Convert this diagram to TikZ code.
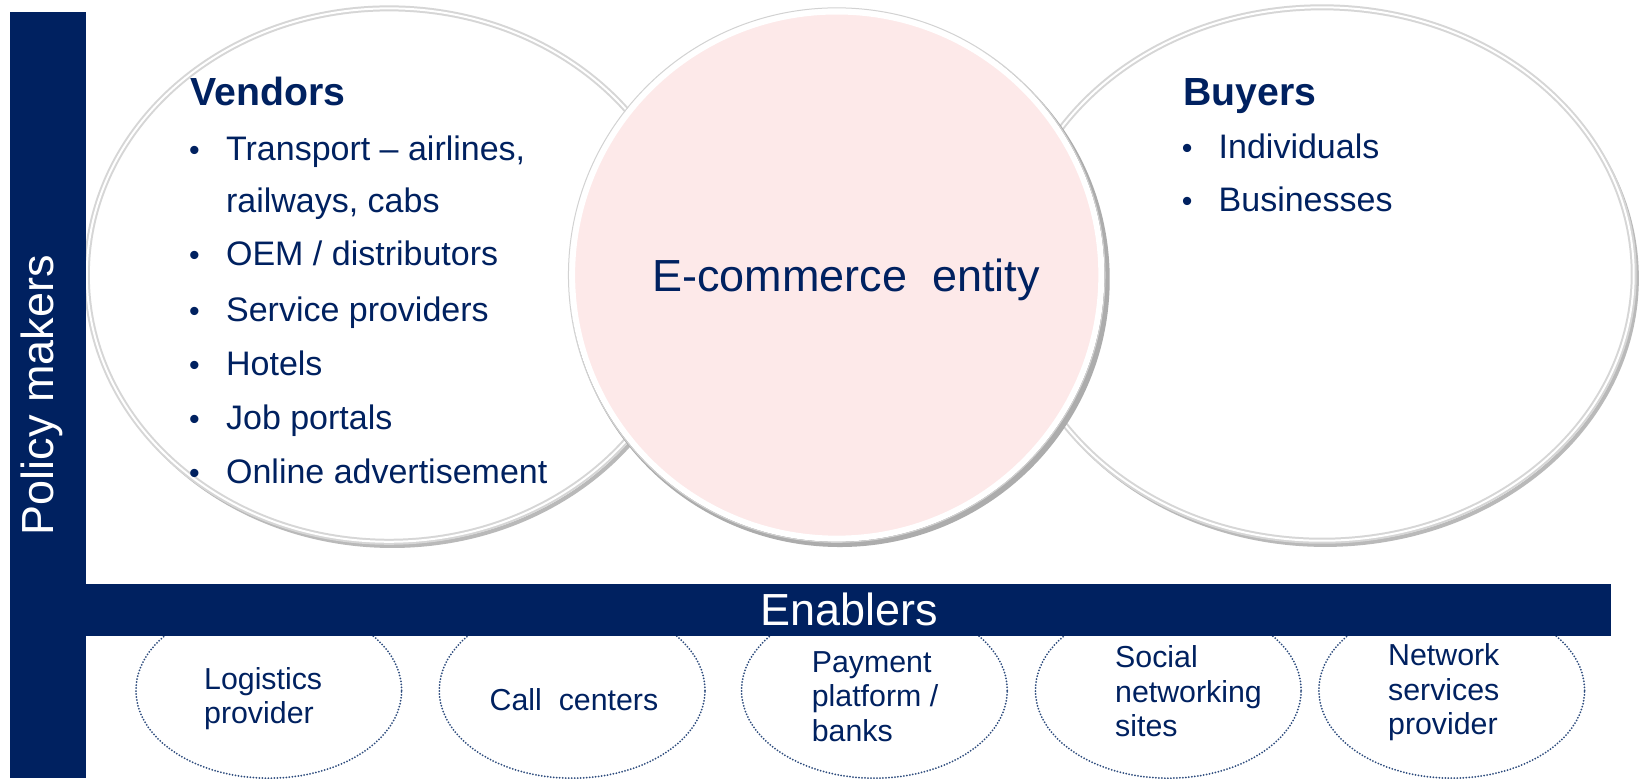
\documentclass[tikz,border=0pt]{standalone}
\usepackage{fontspec}
\setmainfont{Liberation Sans}
\usetikzlibrary{shapes.geometric}
\definecolor{navy}{RGB}{0,33,96}
\definecolor{dotblue}{RGB}{45,75,125}
\definecolor{pinkfill}{RGB}{253,233,233}
\tikzset{
  bigring/.style={ellipse, inner sep=0pt, fill=white, draw=gray!32, line width=6pt},
  ringline/.style={ellipse, inner sep=0pt, draw=white, line width=2pt},
  shadowring/.style={ellipse, inner sep=0pt, draw=gray!55, line width=4pt},
  hd/.style={anchor=base west, inner sep=0pt, text=navy, font=\bfseries\fontsize{37.5}{42}\selectfont},
  item/.style={anchor=base west, inner sep=0pt, text=navy, font=\fontsize{32.5}{38}\selectfont},
  bul/.style={anchor=base, inner sep=0pt, text=navy, font=\fontsize{29}{34}\selectfont},
  enab/.style={ellipse, inner sep=0pt, draw=dotblue, line width=2pt, dash pattern=on 0pt off 3pt, line cap=round, minimum width=254pt, minimum height=168pt},
  enabtext/.style={anchor=west, inner sep=0pt, align=left, text=navy, font=\fontsize{29}{33}\selectfont},
  bartext/.style={inner sep=0pt, text=white, font=\fontsize{43}{48}\selectfont}
}
\begin{document}
\begin{tikzpicture}[x=1pt, y=-1pt, scale=1.045918, every node/.append style={transform shape}]
\useasboundingbox (0,0) rectangle (1568,744);
\fill[white] (0,0) rectangle (1568,744);

% enabler ellipses (tops hidden under the bar)
\node[enab] (e1) at (257,660) {};
\node[enab] (e2) at (547,660) {};
\node[enab] (e3) at (836,660) {};
\node[enab] (e4) at (1117,660) {};
\node[enab] (e5) at (1388,660) {};

% vendors ellipse
\node[shadowring, minimum width=578pt, minimum height=510pt] (vsh) at (375,267) {};
\node[bigring, minimum width=578pt, minimum height=510pt] (vend) at (372,263) {};
\node[ringline, minimum width=578pt, minimum height=510pt] (vendr) at (372,263) {};

% buyers ellipse
\node[shadowring, minimum width=596pt, minimum height=510pt] (bsh) at (1267,266) {};
\node[bigring, minimum width=596pt, minimum height=510pt] (buy) at (1264,262) {};
\node[ringline, minimum width=596pt, minimum height=510pt] (buyr) at (1264,262) {};

% central circle
\node[ellipse, inner sep=0pt, fill=gray!65, minimum width=516pt, minimum height=512pt] (csh) at (803,267) {};
\node[ellipse, inner sep=0pt, fill=pinkfill, draw=white, line width=6pt, minimum width=506pt, minimum height=504pt] (ent) at (800,263) {};
\node[ellipse, inner sep=0pt, draw=gray!35, line width=1pt, minimum width=513pt, minimum height=511pt] (entr) at (800,263) {};
\node[inner sep=0pt, text=navy, font=\fontsize{43}{48}\selectfont] (entt) at (809,268) {E-commerce\ \ entity};

% vendors text
\node[hd] (vh) at (182,101) {Vendors};
\node[bul] (vb1) at (186,153) {•};
\node[item] (v1) at (216,153) {Transport – airlines,};
\node[item] (v1b) at (216,203) {railways, cabs};
\node[bul] (vb2) at (186,254) {•};
\node[item] (v2) at (216,254) {OEM / distributors};
\node[bul] (vb3) at (186,307) {•};
\node[item] (v3) at (216,307) {Service providers};
\node[bul] (vb4) at (186,359) {•};
\node[item] (v4) at (216,359) {Hotels};
\node[bul] (vb5) at (186,411) {•};
\node[item] (v5) at (216,411) {Job portals};
\node[bul] (vb6) at (186,462) {•};
\node[item] (v6) at (216,462) {Online advertisement};

% buyers text
\node[hd] (bh) at (1131,101) {Buyers};
\node[bul] (bb1) at (1135,152) {•};
\node[item] (b1) at (1165,152) {Individuals};
\node[bul] (bb2) at (1135,202) {•};
\node[item] (b2) at (1165,202) {Businesses};

% bars
\fill[navy] (82,558) rectangle (1540,608);
\node[bartext] (enabl) at (812,583) {Enablers};
\fill[navy] (10,11.5) rectangle (82,744);
\node[bartext, rotate=90] (policy) at (40,378) {Policy makers};

% enabler texts
\node[enabtext] (t1) at (195,668) {Logistics\\provider};
\node[enabtext] (t2) at (468,669) {Call\ \ centers};
\node[enabtext] (t3) at (776,666) {Payment\\platform /\\banks};
\node[enabtext] (t4) at (1066,661) {Social\\networking\\sites};
\node[enabtext] (t5) at (1327,662) {Network\\services\\provider};
\end{tikzpicture}
\end{document}
